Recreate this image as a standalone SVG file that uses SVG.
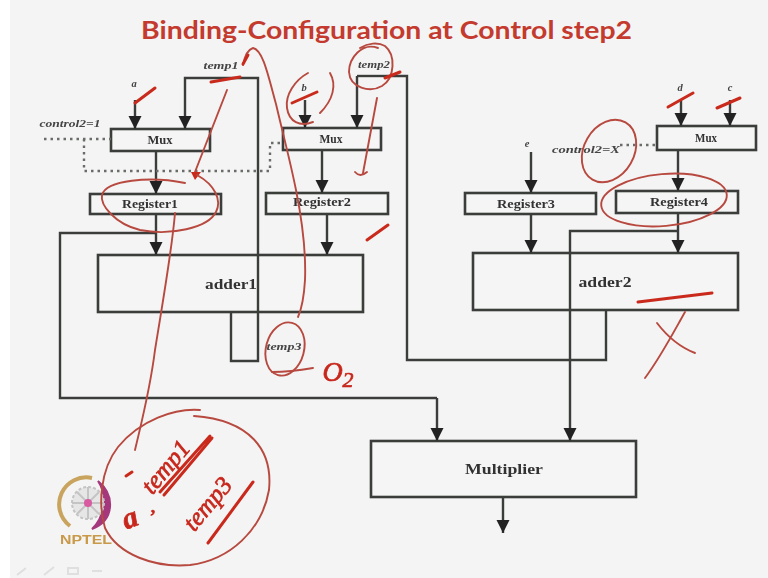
<svg xmlns="http://www.w3.org/2000/svg" width="768" height="578" viewBox="0 0 768 578">
<style>
.box{fill:#f4f5f4;stroke:#3a3c3a;stroke-width:2.6}
.w{fill:none;stroke:#3a3c3a;stroke-width:2.4}
.a{marker-end:url(#arr)}
.dot{fill:none;stroke:#6a6c6a;stroke-width:2.4;stroke-dasharray:2.5 4}
.t{font-family:"Liberation Serif",serif;font-weight:bold;fill:#333;text-anchor:middle}
.s{font-size:11.5px}
.b{font-size:15px}
.i{font-family:"Liberation Serif",serif;font-style:italic;font-weight:bold;font-size:10.5px;fill:#444;text-anchor:middle}
.r{fill:none;stroke:#b8493f;stroke-width:1.9;stroke-linecap:round;stroke-linejoin:round}
.rb{fill:none;stroke:#c92a1e;stroke-width:3;stroke-linecap:round}
.h{font-family:"Liberation Serif",serif;font-style:italic;fill:#c8281c;stroke:#c8281c;stroke-width:.7;text-anchor:middle}
</style>
<defs>
<marker id="arr" markerUnits="userSpaceOnUse" markerWidth="14" markerHeight="15" refX="13" refY="6.5" orient="auto"><path d="M0 0L13 6.5L0 13Z" fill="#222"/></marker>
<filter id="soft" x="-2%" y="-2%" width="104%" height="104%"><feGaussianBlur stdDeviation="0.45"/></filter>
</defs>
<rect width="768" height="578" fill="#f3f4f3"/>
<rect width="10" height="578" fill="#fff"/>
<text id="title" x="141" y="39" font-family="Lato,'Liberation Sans',sans-serif" font-weight="bold" font-size="25" fill="#c43a2e" textLength="491" lengthAdjust="spacingAndGlyphs">Binding-Configuration at Control step2</text>
<g filter="url(#soft)">
<g id="nodes">
<g id="mux1"><rect class="box" x="111" y="129" width="99" height="22"/><text class="t s" x="160" y="144" textLength="25" lengthAdjust="spacingAndGlyphs">Mux</text></g>
<g id="register1"><rect class="box" x="90" y="194" width="131" height="20"/><text class="t s" x="150" y="208" textLength="56" lengthAdjust="spacingAndGlyphs">Register1</text></g>
<g id="mux2"><rect class="box" x="283" y="128" width="98" height="22"/><text class="t s" x="331" y="143" textLength="23" lengthAdjust="spacingAndGlyphs">Mux</text></g>
<g id="register2"><rect class="box" x="266" y="193" width="122" height="21"/><text class="t s" x="322" y="206" textLength="58" lengthAdjust="spacingAndGlyphs">Register2</text></g>
<g id="adder1"><rect class="box" x="98" y="255" width="265" height="57"/><text class="t b" x="231" y="289" textLength="52" lengthAdjust="spacingAndGlyphs">adder1</text></g>
<g id="register3"><rect class="box" x="465" y="193" width="131" height="21"/><text class="t s" x="526" y="208" textLength="58" lengthAdjust="spacingAndGlyphs">Register3</text></g>
<g id="register4"><rect class="box" x="616" y="191" width="122" height="22"/><text class="t s" x="679" y="206" textLength="58" lengthAdjust="spacingAndGlyphs">Register4</text></g>
<g id="mux3"><rect class="box" x="657" y="126" width="99" height="24"/><text class="t s" x="706" y="142" textLength="22" lengthAdjust="spacingAndGlyphs">Mux</text></g>
<g id="adder2"><rect class="box" x="473" y="253" width="265" height="57"/><text class="t b" x="605" y="287" textLength="53" lengthAdjust="spacingAndGlyphs">adder2</text></g>
<g id="multiplier"><rect class="box" x="371" y="441" width="265" height="56"/><text class="t" font-size="15" x="504" y="474" textLength="78" lengthAdjust="spacingAndGlyphs">Multiplier</text></g>
</g>
<g id="connectors">
<path class="w a" d="M135 100V129"/>
<path class="w" d="M185 90V78H258V361H231V312"/>
<path class="w a" d="M185 90V129"/>
<path class="w a" d="M156 151V194"/>
<path class="w a" d="M156 214V255"/>
<path class="w" d="M156 233H60V398H437"/>
<path class="w a" d="M437 398V441"/>
<path class="w a" d="M305 100V128"/>
<path class="w a" d="M357 76V128"/>
<path class="w" d="M357 76H386"/>
<path class="w a" d="M322 150V193"/>
<path class="w a" d="M327 214V255"/>
<path class="w" d="M386 76H407V360H606V310"/>
<path class="w a" d="M531 152V193"/>
<path class="w a" d="M531 214V253"/>
<path class="w a" d="M681 100V126"/>
<path class="w a" d="M730 100V126"/>
<path class="w a" d="M678 150V191"/>
<path class="w a" d="M678 213V253"/>
<path class="w" d="M678 231H570V398"/>
<path class="w a" d="M570 398V441"/>
<path class="w a" d="M503 497V533"/>
<path class="dot" d="M44 139H111M84 139V171H270V143H283"/>
<path class="dot" d="M620 145H657"/>
</g>
<g id="labels">
<text class="i" x="70" y="127" textLength="61" lengthAdjust="spacingAndGlyphs">control2=1</text>
<text class="i" x="221" y="69" textLength="35" lengthAdjust="spacingAndGlyphs">temp1</text>
<text class="i" x="374" y="68" textLength="32" lengthAdjust="spacingAndGlyphs">temp2</text>
<text class="i" x="586" y="153" textLength="68" lengthAdjust="spacingAndGlyphs">control2=X</text>
<text class="i" x="134" y="87">a</text>
<text class="i" x="304" y="91">b</text>
<text class="i" x="680" y="91">d</text>
<text class="i" x="730" y="91">c</text>
<text class="i" x="527" y="147">e</text>
<text class="i" x="284" y="350" textLength="35" lengthAdjust="spacingAndGlyphs">temp3</text>
</g>
<g id="logo">
<path d="M92 478A27 27 0 0 0 70 526" fill="none" stroke="#c9a45e" stroke-width="4"/>
<path d="M98 481C115 495 115 520 92 529C104 518 108 496 98 481Z" fill="#a5397c" stroke="#a5397c" stroke-width="2"/>
<circle cx="88" cy="503" r="16" fill="#e6e6e6" stroke="#c4c4c4" stroke-width="2" stroke-dasharray="3 2"/>
<path d="M72 503H104M88 487V519M77 492L99 514M99 492L77 514" stroke="#c4c4c4" stroke-width="2"/>
<circle cx="88" cy="503" r="4" fill="#d85aa0"/>
<text x="60" y="544" font-family="'Liberation Sans',sans-serif" font-weight="bold" font-size="12" fill="#c99a4a" textLength="52" lengthAdjust="spacingAndGlyphs">NPTEL</text>
</g>
<g id="toolbar" fill="none" stroke="#dfdfdf" stroke-width="2">
<path d="M17 575L26 568M44 575L54 567"/><rect x="68" y="568" width="10" height="6"/><path d="M92 571h10"/>
</g>
<g id="annotations">
<path class="r" d="M243 65Q246 50 253 48C263 50 268 75 276 104C282 130 290 160 296 190C303 225 306 255 305 280C304 297 302 308 298 317"/>
<path class="rb" d="M243 64L248 55M211 82L240 77"/>
<path class="r" d="M227 90L195 172"/>
<path d="M191 172L201 172L195 180Z" fill="#c92a1e"/>
<path class="r" d="M197 175C215 185 222 200 216 212C208 228 170 236 140 230C115 224 100 205 102 195C106 180 150 176 185 183"/>
<path class="r" d="M175 213C172 250 163 300 155 350C150 390 142 420 135 450"/>
<path class="r" d="M200 410C175 408 140 420 118 447C100 470 98 505 105 528C118 555 155 568 190 565C230 560 262 530 269 490C273 450 250 420 194 416"/>
<path class="rb" stroke-width="2" d="M135 103L155 88"/>
<path class="r" d="M308 73C295 80 285 95 287 108C289 122 300 127 313 122"/>
<path class="r" d="M330 73C337 85 333 100 320 113"/>
<path class="rb" d="M292 103L317 92"/>
<path class="r" d="M378 48C362 42 349 58 349 72C350 88 370 93 382 86C395 78 396 55 385 46C378 42 368 43 360 48"/>
<path class="rb" d="M385 78L400 72"/>
<path class="r" d="M377 98L363 173M355 172Q360 178 367 172"/>
<path class="rb" stroke-width="2" d="M367 240L388 225"/>
<ellipse class="r" cx="609" cy="151" rx="25" ry="33" transform="rotate(30 609 151)"/>
<ellipse class="r" cx="664" cy="200" rx="63" ry="26" transform="rotate(-5 664 200)"/>
<path class="rb" d="M668 107L693 93M717 108L740 98"/>
<path class="rb" d="M638 302L712 293"/>
<path class="r" d="M685 312C672 335 660 358 645 378M657 323C670 340 682 348 695 353"/>
<ellipse class="r" cx="285" cy="349" rx="19" ry="27" transform="rotate(15 285 349)"/>
<path class="r" d="M272 372Q290 372 313 368"/>
<text class="h" x="338" y="381" font-size="28" font-family="'Liberation Sans',sans-serif" font-style="normal">O<tspan font-size="22" dy="6">2</tspan></text>
<text class="h" font-size="30" font-weight="bold" transform="translate(133 527) rotate(-20)">a</text>
<text class="h" font-size="22" transform="translate(153 512)">,</text>
<path class="rb" stroke-width="2" d="M126 476L132 472"/>
<text class="h" font-size="25" transform="translate(172 472) rotate(-50)">temp1</text>
<path class="rb" stroke-width="2" d="M160 492L210 436M164 495L212 438"/>
<text class="h" font-size="25" transform="translate(214 509) rotate(-50)">temp3</text>
<path class="rb" stroke-width="4" d="M208 543L253 482"/>
</g>
</g>
</svg>
